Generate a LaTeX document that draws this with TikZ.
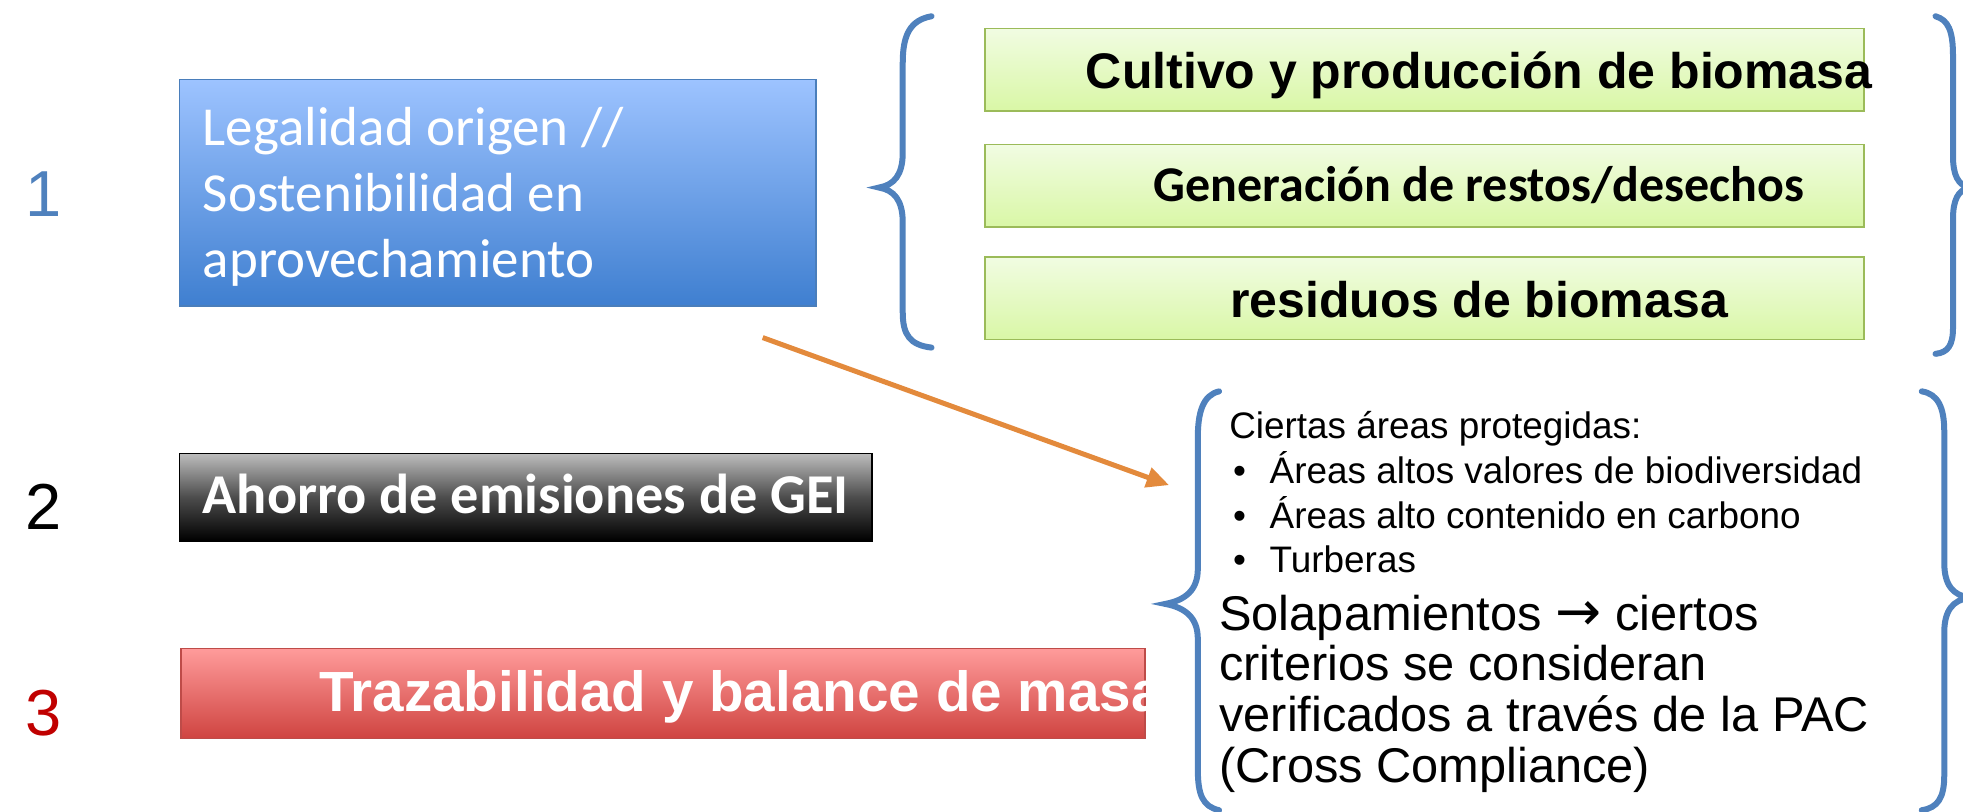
\documentclass[tikz,border=0pt]{standalone}
\usepackage{fontspec}
\setmainfont{Liberation Sans}
\newfontfamily\calib{Carlito}
\usetikzlibrary{arrows.meta}
\definecolor{braceblue}{HTML}{4F81BD}
\definecolor{bluetop}{HTML}{9DC3FF}
\definecolor{bluebot}{HTML}{3F7FD0}
\definecolor{blueedge}{HTML}{4A7EBB}
\definecolor{graytop}{HTML}{BDBDBD}
\definecolor{redtop}{HTML}{FF9B9B}
\definecolor{redbot}{HTML}{CF4441}
\definecolor{rededge}{HTML}{BE4B48}
\definecolor{greentop}{HTML}{F1FCE2}
\definecolor{greenbot}{HTML}{D9F7A6}
\definecolor{greenedge}{HTML}{9BBB59}
\definecolor{arrorange}{HTML}{E38A3C}
\definecolor{numred}{HTML}{C00000}
\tikzset{
  box/.style={draw, line width=1.2pt, inner sep=0pt, anchor=north west},
  greenbox/.style={box, draw=greenedge, top color=greentop, bottom color=greenbot, minimum width=703pt, minimum height=66pt},
  brace/.style={draw=braceblue, line width=4.8pt, line cap=round},
  num/.style={inner sep=0pt, font=\fontsize{52}{52}\selectfont},
}
\begin{document}
\begin{tikzpicture}[x=1pt,y=-1pt]
\useasboundingbox (0,0) rectangle (1570,649);
% numbers
\node[num, text=braceblue] (n1) at (35,155) {1};
\node[num, text=black] (n2) at (35,405) {2};
\node[num, text=numred] (n3) at (35,570) {3};
% blue box
\node[box, draw=blueedge, top color=bluetop, bottom color=bluebot, minimum width=509pt, minimum height=181pt] (blue) at (143,63) {};
\node[anchor=base west, align=left, inner sep=0pt, text=white, font=\calib\fontsize{44}{53}\selectfont] (bluetxt) at (162,222) {Legalidad origen //\\Sostenibilidad en\\aprovechamiento};
% gray box
\node[box, draw=black, top color=graytop, bottom color=black, middle color=gray!60!black, minimum width=554pt, minimum height=70pt] (gray) at (143,362) {};
\node[anchor=base west, inner sep=0pt, text=white, font=\calib\bfseries\fontsize{45}{45}\selectfont] (graytxt) at (162,411) {Ahorro de emisiones de GEI};
% red box
\node[box, draw=rededge, top color=redtop, bottom color=redbot, minimum width=771pt, minimum height=72pt] (red) at (144,518) {};
\begin{scope}
\clip (red.south west) rectangle (red.north east);
\node[anchor=base west, inner sep=0pt, text=white, font=\bfseries\fontsize{45.3}{45}\selectfont] (redtxt) at (255,569) {Trazabilidad y balance de masa};
\end{scope}
% green boxes
\node[greenbox] (g1) at (787,22) {};
\node[greenbox] (g2) at (787,115) {};
\node[greenbox] (g3) at (787,205) {};
\node[anchor=base, inner sep=0pt, font=\bfseries\fontsize{40}{40}\selectfont] (g1txt) at (1183,71) {Cultivo y producción de biomasa};
\node[anchor=base, inner sep=0pt, font=\calib\bfseries\fontsize{40}{40}\selectfont] (g2txt) at (1183,161) {Generación de restos/desechos};
\node[anchor=base, inner sep=0pt, font=\bfseries\fontsize{40}{40}\selectfont] (g3txt) at (1183,254) {residuos de biomasa};
% lower text
\node[anchor=base west, align=left, inner sep=0pt, font=\fontsize{29.5}{35.7}\selectfont] (crit) at (983,458) {Ciertas áreas protegidas:\\
\hspace*{3pt}•\hspace{19pt}Áreas altos valores de biodiversidad\\
\hspace*{3pt}•\hspace{19pt}Áreas alto contenido en carbono\\
\hspace*{3pt}•\hspace{19pt}Turberas};
\node[anchor=base west, align=left, inner sep=0pt, font=\fontsize{39}{40.7}\selectfont] (solap) at (975,626) {Solapamientos {\fontspec{DejaVu Sans}\fontsize{44}{40.7}\selectfont →} ciertos\\criterios se consideran\\verificados a través de la PAC\\(Cross Compliance)};
% braces
\draw[brace] (745,13) .. controls (728,16) and (722,28) .. (722,50) -- (722,122) .. controls (722,140) and (715,148) .. (703,150) .. controls (715,152) and (722,160) .. (722,178) -- (722,250) .. controls (722,268) and (728,276) .. (745,278);
\draw[brace] (1548,13) .. controls (1558,16) and (1562,24) .. (1562,45) -- (1562,125) .. controls (1562,140) and (1566,148) .. (1575,150) .. controls (1566,152) and (1562,160) .. (1562,175) -- (1562,262) .. controls (1562,276) and (1558,282) .. (1548,283);
\draw[brace] (975,313) .. controls (962,316) and (958,330) .. (958,350) -- (958,455) .. controls (958,472) and (948,480) .. (932,483) .. controls (948,486) and (958,494) .. (958,511) -- (958,615) .. controls (958,636) and (962,645) .. (975,648);
\draw[brace] (1537,313) .. controls (1550,315) and (1555,326) .. (1555,345) -- (1555,450) .. controls (1555,468) and (1562,476) .. (1575,478) .. controls (1562,480) and (1555,488) .. (1555,506) -- (1555,620) .. controls (1555,638) and (1550,646) .. (1537,648);
% arrow
\coordinate (arrS) at (610,270);
\coordinate (arrE) at (935,388);
\draw[arrorange, line width=4pt, -{Triangle[length=18pt,width=16pt]}] (arrS) -- (arrE);
\end{tikzpicture}
\end{document}
